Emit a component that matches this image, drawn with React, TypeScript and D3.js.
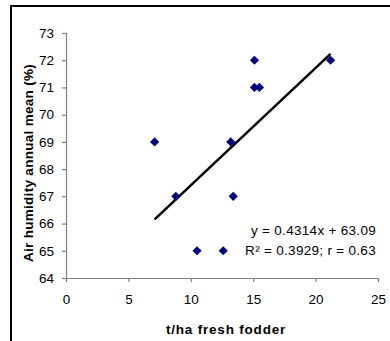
import { useEffect, useRef } from 'react';
import * as d3 from 'd3';

// t/ha fresh fodder vs air humidity annual mean (%)
const fodder = [7.1, 8.8, 10.5, 12.6, 13.2, 13.4, 15.1, 15.1, 15.5, 21.2];
const humidity = [69, 67, 65, 65, 69, 67, 72, 71, 71, 72];
const xTicks = [0, 5, 10, 15, 20, 25];
const yTicks = [64, 65, 66, 67, 68, 69, 70, 71, 72, 73];
const slope = 0.4314;
const intercept = 63.09;
const eqLines = ['y = 0.4314x + 63.09', 'R² = 0.3929; r = 0.63'];

const FONT = 'Liberation Sans, Arial, sans-serif';

const App = () => {
  const svgRef = useRef<SVGSVGElement>(null);

  useEffect(() => {
    const width = 390;
    const height = 341;
    const m = { left: 66, right: 12, top: 33, bottom: 63 };

    const svg = d3.select(svgRef.current);
    svg.selectAll('*').remove();
    svg.attr('width', width).attr('height', height);

    svg.append('rect').attr('width', width).attr('height', height).attr('fill', '#fff');

    // outer frame (only left and top edges visible)
    svg.append('path')
      .attr('d', `M11,${height} L11,6 L${width},6`)
      .attr('fill', 'none')
      .attr('stroke', '#000')
      .attr('stroke-width', 2);

    const x = d3.scaleLinear().domain([0, 25]).range([m.left, width - m.right]);
    const y = d3.scaleLinear().domain([64, 73]).range([height - m.bottom, m.top]);

    const xAxis = svg.append('g')
      .attr('transform', `translate(0,${y(64)})`)
      .call(d3.axisBottom(x).tickValues(xTicks).tickSize(4).tickPadding(12));
    const yAxis = svg.append('g')
      .attr('transform', `translate(${x(0)},0)`)
      .call(d3.axisLeft(y).tickValues(yTicks).tickSize(4).tickPadding(8));

    [xAxis, yAxis].forEach(ax => {
      ax.selectAll('path, line').attr('stroke', '#808080').attr('stroke-width', 1.2);
      ax.selectAll('text')
        .attr('font-family', FONT)
        .attr('font-size', 13.5)
        .attr('fill', '#000');
    });

    // trendline over the data range
    const [x0, x1] = d3.extent(fodder) as [number, number];
    svg.append('line')
      .attr('x1', x(x0)).attr('y1', y(slope * x0 + intercept))
      .attr('x2', x(x1)).attr('y2', y(slope * x1 + intercept))
      .attr('stroke', '#000')
      .attr('stroke-width', 2.5);

    const marker = d3.symbol().type(d3.symbolSquare).size(42);
    svg.append('g')
      .selectAll('path')
      .data(fodder.map((f, i) => [f, humidity[i]]))
      .join('path')
      .attr('d', marker)
      .attr('transform', d => `translate(${x(d[0])},${y(d[1])}) rotate(45)`)
      .attr('fill', '#000080');

    // regression label
    const eq = svg.append('text')
      .attr('font-family', FONT)
      .attr('font-size', 13.5)
      .attr('letter-spacing', 0.3)
      .attr('text-anchor', 'end')
      .attr('fill', '#000');
    eqLines.forEach((t, i) => {
      eq.append('tspan').attr('x', 376).attr('y', 235 + i * 20).text(t);
    });

    svg.append('text')
      .attr('x', 226)
      .attr('y', 334)
      .attr('text-anchor', 'middle')
      .attr('font-family', FONT)
      .attr('font-size', 13.5)
      .attr('font-weight', 700)
      .attr('letter-spacing', 0.8)
      .text('t/ha fresh fodder');

    svg.append('text')
      .attr('transform', `translate(33,163) rotate(-90)`)
      .attr('text-anchor', 'middle')
      .attr('font-family', FONT)
      .attr('font-size', 13.5)
      .attr('font-weight', 700)
      .attr('letter-spacing', 0.3)
      .text('Air humidity annual mean (%)');
  }, []);

  return <svg ref={svgRef} style={{ position: 'absolute', left: 0, top: 0 }} />;
};

export default App;
